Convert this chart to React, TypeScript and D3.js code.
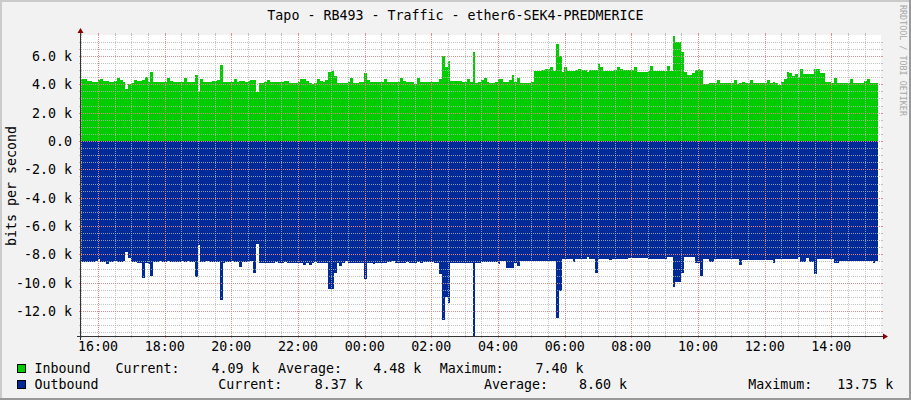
import React from 'react';
import * as d3 from 'd3';

const title = 'Tapo - RB493 - Traffic - ether6-SEK4-PREDMERICE';
const yAxisTitle = 'bits per second';
const watermark = 'RRDTOOL / TOBI OETIKER';
const seriesNames = ['Inbound', 'Outbound'];
const seriesColors = ['#00CC00', '#002A97'];
const inboundStats = ['4.09 k', '4.48 k', '7.40 k'];
const outboundStats = ['8.37 k', '8.60 k', '13.75 k'];

// 5-minute samples, kbit/s, starting 15:29
const inboundK = [
  4.37,4.37,4.23,4.21,4.19,4.19,4.30,4.37,4.23,4.21,
  4.19,4.19,4.23,4.47,4.30,4.19,3.65,4.00,4.12,4.30,
  4.26,4.23,4.30,4.49,4.19,4.87,4.19,4.16,4.16,4.14,
  4.16,4.42,4.23,4.19,4.16,4.19,4.19,4.42,4.14,4.14,
  4.14,4.66,3.48,4.35,4.19,4.19,4.19,4.21,4.26,4.30,
  5.36,4.19,4.19,4.16,4.19,4.35,4.14,4.23,4.23,4.19,
  4.26,4.30,4.30,3.48,4.12,4.12,4.14,4.30,4.19,4.14,
  4.14,4.14,4.14,4.26,4.23,4.12,4.12,4.12,4.14,4.37,
  4.35,4.23,4.07,4.00,4.12,4.37,4.26,4.19,4.30,4.89,
  4.91,4.58,4.12,4.12,4.12,4.07,4.19,4.47,4.12,4.12,
  4.14,4.19,4.82,4.30,4.19,4.19,4.19,4.19,4.19,4.37,
  4.14,4.14,4.14,4.14,4.14,4.44,4.26,4.14,4.14,4.19,
  4.02,4.42,4.14,4.14,4.14,4.14,4.14,4.14,4.14,4.37,
  6.02,5.25,5.65,4.23,4.23,4.23,4.23,4.19,4.14,4.35,
  4.19,6.30,4.12,4.19,4.30,4.47,4.14,4.12,4.12,4.19,
  4.35,4.35,4.14,4.14,4.30,4.66,4.19,4.42,4.07,4.07,
  4.07,4.12,4.14,4.96,4.96,4.96,5.01,5.06,5.06,5.20,
  4.96,6.85,6.00,4.89,5.20,4.96,4.96,4.96,5.01,5.06,
  5.01,5.01,4.89,5.01,5.01,5.01,5.43,5.20,4.96,4.96,
  4.96,4.96,5.01,5.20,5.06,5.01,5.01,5.01,5.01,5.20,
  4.89,4.89,4.89,4.89,4.96,5.29,4.96,4.96,4.96,4.96,
  4.96,5.29,4.96,7.40,7.01,7.01,6.28,4.89,4.66,4.66,
  4.82,5.01,5.06,5.01,4.02,4.02,4.07,4.12,4.12,4.30,
  4.07,4.07,4.07,4.09,4.12,4.30,4.02,4.12,4.19,4.07,
  4.07,4.30,4.07,4.07,4.07,4.07,4.07,4.30,4.12,4.19,
  4.12,3.95,4.19,4.35,4.89,4.82,4.58,4.73,4.54,5.08,
  4.71,4.71,4.71,4.71,5.08,5.08,4.82,4.78,4.19,4.19,
  4.12,4.42,4.07,4.07,4.07,4.07,4.12,4.35,4.07,4.07,
  4.07,4.07,4.26,4.35,4.07,4.07,4.07,
];

const outboundK = [
  8.52,8.52,8.52,8.52,8.52,8.47,8.35,8.52,8.52,8.68,
  8.52,8.52,8.44,8.52,8.52,8.44,7.81,8.28,8.52,8.52,
  8.59,8.63,9.69,8.63,8.68,9.50,8.52,8.52,8.47,8.52,
  8.52,8.47,8.52,8.56,8.52,8.52,8.47,8.52,8.47,8.52,
  8.52,9.62,7.34,8.52,8.56,8.47,8.56,8.56,8.52,8.56,
  11.22,8.63,8.52,8.52,8.47,8.52,8.56,8.87,8.52,8.52,
  8.52,8.47,9.29,7.27,8.63,8.63,8.59,8.63,8.59,8.63,
  8.56,8.63,8.63,8.56,8.63,8.63,8.63,8.63,8.59,8.63,
  8.73,8.63,8.75,8.59,8.52,8.59,8.59,8.59,8.63,10.47,
  10.47,9.34,8.63,8.80,8.63,8.44,8.59,8.63,8.63,8.63,
  8.63,8.63,9.76,8.59,8.59,8.71,8.59,8.59,8.59,8.59,
  8.56,8.52,8.44,8.59,8.63,8.59,8.59,8.56,8.59,8.59,
  8.59,8.56,8.59,8.56,8.56,8.56,8.56,8.63,8.63,9.39,
  12.63,10.99,11.41,8.63,8.63,8.63,8.59,8.63,8.59,8.63,
  8.63,13.75,8.63,8.63,8.52,8.52,8.52,8.52,8.52,8.52,
  8.71,8.47,8.47,8.99,8.99,8.99,8.63,8.80,8.44,8.44,
  8.44,8.44,8.44,8.44,8.44,8.44,8.44,8.44,8.44,8.44,
  8.44,12.51,10.56,8.35,8.35,8.35,8.35,8.56,8.35,8.35,
  8.35,8.35,8.16,8.35,8.35,9.29,8.35,8.35,8.35,8.35,
  8.40,8.35,8.35,8.35,8.35,8.35,8.30,8.28,8.28,8.28,
  8.28,8.28,8.28,8.28,8.35,8.35,8.35,8.35,8.35,8.35,
  8.35,8.16,8.16,10.28,9.93,9.93,9.29,8.16,8.16,8.16,
  8.16,8.63,8.63,9.50,8.35,8.35,8.52,8.52,8.35,8.35,
  8.35,8.35,8.35,8.35,8.35,8.35,8.35,8.75,8.40,8.40,
  8.40,8.40,8.40,8.40,8.40,8.40,8.40,8.40,8.40,8.63,
  8.35,8.35,8.35,8.35,8.35,8.35,8.35,8.35,8.16,8.52,
  8.52,8.28,8.52,8.52,9.41,8.35,8.35,8.35,8.35,8.35,
  8.35,8.63,8.63,8.47,8.47,8.47,8.47,8.47,8.47,8.47,
  8.47,8.47,8.47,8.47,8.47,8.63,8.47,
];

const W = 911;
const H = 400;
const X0 = 81;
const X1 = 881;
const Y0 = 336;
const Y1 = 35;
const FONT = "'DejaVu Sans Mono', monospace";
const FS = 13.3;
const STEP_MS = 300 * 1000;

const start = new Date(2024, 0, 1, 15, 29, 24);
const end = new Date(start.getTime() + 86400 * 1000);

type Pt = { t: Date; v: number };

function toPoints(arr: number[], sign: number): Pt[] {
  const pts = arr.map((v, i) => ({ t: new Date(start.getTime() + i * STEP_MS), v: sign * v }));
  pts.push({ t: new Date(start.getTime() + arr.length * STEP_MS), v: sign * arr[arr.length - 1] });
  return pts;
}

export default function App() {
  const x = d3.scaleTime().domain([start, end]).range([X0, X1]);
  const y = d3.scaleLinear().domain([-13.76, 7.48]).range([Y0, Y1]);

  const area = (pts: Pt[]) =>
    d3
      .area<Pt>()
      .x((d) => x(d.t))
      .y0(y(0))
      .y1((d) => y(d.v))
      .curve(d3.curveStepAfter)(pts) as string;

  const inPath = area(toPoints(inboundK, 1));
  const outPath = area(toPoints(outboundK, -1));

  const minorTimes = d3.timeMinute.every(30)!.range(start, end);
  const majorTimes = d3.timeHour.every(2)!.range(start, end);
  const minorVals = d3.range(-13.5, 7.5, 0.5).filter((v) => y(v) >= Y1 && y(v) <= Y0);
  const majorVals = d3.range(-12, 7, 2);

  const gridC = 'rgba(180,180,180,0.8)';
  const mgridC = 'rgba(240,120,120,0.75)';
  const px = (v: number) => Math.round(v) + 0.5;
  const fmt = d3.timeFormat('%H:%M');
  const yFmt = (v: number) => (v === 0 ? '0.0' : `${v.toFixed(1)} k`);

  const hLine = (v: number, c: string, k: string) => {
    const yy = px(y(v));
    return (
      <g key={k}>
        <line x1={X0} x2={X1} y1={yy} y2={yy} stroke={c} strokeDasharray="1,1" />
        <line x1={X0 - 2} x2={X0} y1={yy} y2={yy} stroke={c} />
        <line x1={X1} x2={X1 + 2} y1={yy} y2={yy} stroke={c} />
      </g>
    );
  };
  const vLine = (t: Date, c: string, k: string) => {
    const xx = px(x(t));
    return (
      <g key={k}>
        <line x1={xx} x2={xx} y1={Y1} y2={Y0} stroke={c} strokeDasharray="1,1" />
        <line x1={xx} x2={xx} y1={Y0} y2={Y0 + 2} stroke={c} />
        <line x1={xx} x2={xx} y1={Y1 - 2} y2={Y1} stroke={c} />
      </g>
    );
  };

  const textProps = { fontFamily: FONT, fontSize: FS, fill: '#000' };

  return (
    <svg
      width={W}
      height={H}
      style={{ position: 'absolute', left: 0, top: 0, display: 'block' }}
      xmlns="http://www.w3.org/2000/svg"
    >
      <rect x={0} y={0} width={W} height={H} fill="#F2F2F2" />
      <rect x={0} y={0} width={W} height={2} fill="#CBCBCB" />
      <rect x={0} y={0} width={2} height={H} fill="#CBCBCB" />
      <rect x={0} y={H - 2} width={W} height={2} fill="#999999" />
      <rect x={W - 2} y={0} width={2} height={H} fill="#999999" />

      <rect x={X0} y={Y1} width={X1 - X0} height={Y0 - Y1} fill="#FFFFFF" />

      <path d={inPath} fill={seriesColors[0]} shapeRendering="crispEdges" />
      <path d={outPath} fill={seriesColors[1]} shapeRendering="crispEdges" />

      <g shapeRendering="crispEdges">
        {minorVals.map((v, i) => hLine(v, gridC, 'hm' + i))}
        {minorTimes.map((t, i) => vLine(t, gridC, 'vm' + i))}
        {majorVals.map((v, i) => hLine(v, mgridC, 'hM' + i))}
        {majorTimes.map((t, i) => vLine(t, mgridC, 'vM' + i))}
      </g>

      {/* axes */}
      <g shapeRendering="crispEdges">
        <line x1={X0 - 4} x2={X1 + 4} y1={Y0 + 0.5} y2={Y0 + 0.5} stroke="#333" />
        <line x1={X0 - 0.5} x2={X0 - 0.5} y1={Y0 + 4} y2={Y1 - 4} stroke="#333" />
      </g>
      <path d={`M${X1 + 7},${Y0 + 0.5} L${X1 + 2},${Y0 - 2.5} L${X1 + 2},${Y0 + 3.5} Z`} fill="#8B0000" />
      <path d={`M${X0 - 0.5},${Y1 - 7} L${X0 - 3.5},${Y1 - 2} L${X0 + 2.5},${Y1 - 2} Z`} fill="#8B0000" />

      {/* y labels */}
      {majorVals.map((v, i) => (
        <text key={'yl' + i} x={72} y={px(y(v)) + 4.5} textAnchor="end" {...textProps}>
          {yFmt(v)}
        </text>
      ))}
      {/* x labels */}
      {majorTimes.map((t, i) => (
        <text key={'xl' + i} x={x(t)} y={351} textAnchor="middle" {...textProps}>
          {fmt(t)}
        </text>
      ))}

      <text x={W / 2} y={19.5} textAnchor="middle" {...textProps}>
        {title}
      </text>

      <text
        transform={`translate(15.5,186) rotate(-90)`}
        textAnchor="middle"
        {...textProps}
      >
        {yAxisTitle}
      </text>

      <text
        transform={`translate(900,5) rotate(90)`}
        fontFamily={FONT}
        fontSize={8.4}
        fill="#A8A8A8"
      >
        {watermark}
      </text>

      {/* legend */}
      <rect x={17.5} y={364.5} width={8} height={8} fill={seriesColors[0]} stroke="#000" />
      <rect x={17.5} y={380.5} width={8} height={8} fill={seriesColors[1]} stroke="#000" />
      <g {...textProps}>
        <text x={34.5} y={373}>{seriesNames[0]}</text>
        <text x={115.5} y={373}>Current:</text>
        <text x={211.5} y={373}>{inboundStats[0]}</text>
        <text x={278} y={373}>Average:</text>
        <text x={373.3} y={373}>{inboundStats[1]}</text>
        <text x={439.7} y={373}>Maximum:</text>
        <text x={535.5} y={373}>{inboundStats[2]}</text>

        <text x={34.5} y={389}>{seriesNames[1]}</text>
        <text x={218.3} y={389}>Current:</text>
        <text x={314.7} y={389}>{outboundStats[0]}</text>
        <text x={484} y={389}>Average:</text>
        <text x={579} y={389}>{outboundStats[1]}</text>
        <text x={748.3} y={389}>Maximum:</text>
        <text x={837.3} y={389}>{outboundStats[2]}</text>
      </g>
    </svg>
  );
}
